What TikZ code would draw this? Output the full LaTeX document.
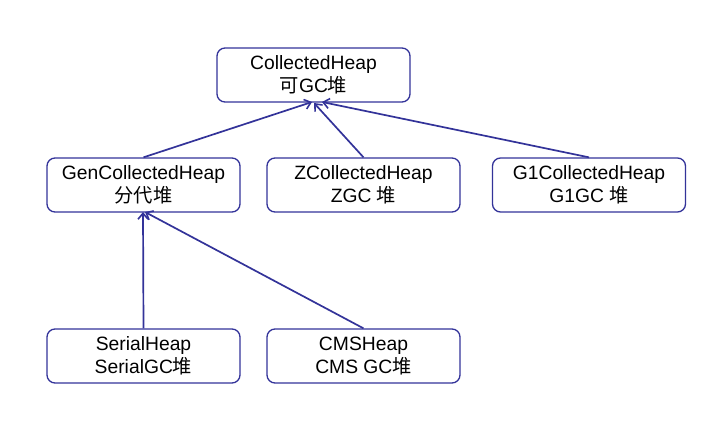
\documentclass[tikz,border=0pt]{standalone}
\usepackage{fontspec}
\setmainfont{Liberation Sans}
\newfontfamily\cjk{Noto Sans CJK SC}
\usetikzlibrary{arrows.meta}
\definecolor{navy}{HTML}{333399}
\tikzset{
  heapbox/.style={draw=navy, line width=1.3pt, rounded corners=8pt, minimum width=193pt, minimum height=54pt, align=center, font=\fontsize{19.3}{23}\selectfont, inner sep=0pt},
  inh/.style={draw=navy, line width=1.7pt, -{Straight Barb[length=6pt,width=10pt,line width=1.6pt]}}
}
\begin{document}
\begin{tikzpicture}[x=1pt,y=-1pt]
\useasboundingbox (0,0) rectangle (713,446);
\node[heapbox] (ch) at (313.5,75) {CollectedHeap\\{\cjk 可}GC{\cjk 堆}};
\node[heapbox] (gen) at (143.5,185) {GenCollectedHeap\\{\cjk 分代堆}};
\node[heapbox] (z) at (363.5,185) {ZCollectedHeap\\ZGC {\cjk 堆}};
\node[heapbox] (g1) at (589,185) {G1CollectedHeap\\G1GC {\cjk 堆}};
\node[heapbox] (ser) at (143.5,356) {SerialHeap\\SerialGC{\cjk 堆}};
\node[heapbox] (cms) at (363.5,356) {CMSHeap\\CMS GC{\cjk 堆}};
\coordinate (chA) at (312,102);
\coordinate (chC) at (314,103);
\coordinate (chB) at (322,102);
\coordinate (genA) at (143,212);
\coordinate (genB) at (145,212);
\draw[inh] (gen.north) -- (chA);
\draw[inh] (z.north) -- (chC);
\draw[inh] (g1.north) -- (chB);
\draw[inh] (ser.north) -- (genA);
\draw[inh] (cms.north) -- (genB);
\end{tikzpicture}
\end{document}
